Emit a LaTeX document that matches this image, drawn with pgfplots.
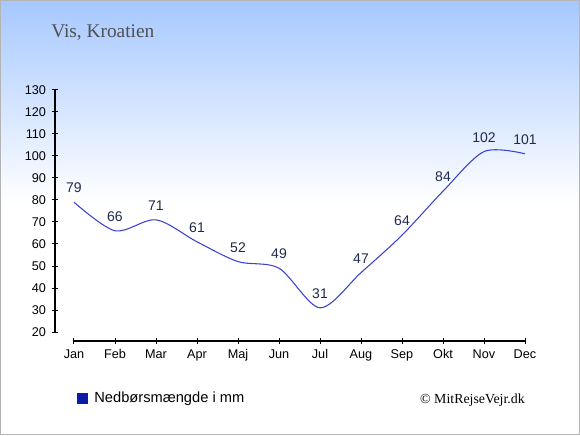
\documentclass[border=0pt]{standalone}
\usepackage{pgfplots}
\pgfplotsset{compat=1.18}
\usepackage{fontspec}
\setmainfont{Liberation Sans}
\newfontfamily\seriffont{Liberation Serif}
\definecolor{bgtop}{HTML}{A6C8FF}
\definecolor{bordergray}{HTML}{B4B4B4}
\definecolor{titlegray}{HTML}{505050}
\definecolor{linecol}{HTML}{3A42CF}
\definecolor{labcol}{HTML}{1F2B4A}
\definecolor{legblue}{HTML}{0A1CA8}
\begin{document}
\begin{tikzpicture}[x=0.75pt,y=0.75pt]
\useasboundingbox (0,0) rectangle (580,435);
\fill[white] (0,0) rectangle (580,435);
\shade[top color=bgtop, bottom color=white] (0,232) rectangle (580,435);
\draw[bordergray, line width=1.1pt] (0.6,0.6) rectangle (579.4,434.4);
\node[anchor=base west, inner sep=0pt, text=titlegray, font=\seriffont\fontsize{14.5}{17}\selectfont] at (51,397) {Vis, Kroatien};
\node[anchor=base east, inner sep=0pt, text=black, font=\seriffont\fontsize{10.4}{12}\selectfont] at (525,32) {\textcopyright\ MitRejseVejr.dk};
\begin{axis}[
  at={(55.5pt,77.25pt)}, anchor=south west,
  width=338.25pt, height=181.5pt, scale only axis,
  xmin=0, xmax=11, ymin=20, ymax=130,
  axis lines=left,
  axis line style={-, black, line width=0.9pt},
  axis x line shift=6.75pt,
  axis y line shift=14.25pt,
  xtick={0,...,11},
  xticklabels={Jan,Feb,Mar,Apr,Maj,Jun,Jul,Aug,Sep,Okt,Nov,Dec},
  ytick={20,30,...,130},
  tick align=center,
  major tick length=4.5pt,
  tick style={black, line width=0.75pt},
  tick label style={font=\fontsize{9.5}{11}\selectfont, text=black},
  /pgf/number format/assume math mode=true,
  xticklabel style={yshift=-0.7pt},
  yticklabel style={xshift=-1pt},
  clip=false,
  legend style={at={(axis description cs:0.0067,-0.273)}, anchor=west, draw=none, fill=none, inner sep=0pt, font=\fontsize{11}{13}\selectfont, nodes={inner sep=0pt}},
  /tikz/every odd column/.append style={column sep=4.5pt},
  legend image code/.code={\fill[legblue] (0pt,-3.75pt) rectangle (7.5pt,3.75pt);},
]
\addplot[linecol, line width=0.8pt, smooth, mark=none,
  nodes near coords, point meta=explicit symbolic,
  every node near coord/.append style={anchor=south, inner sep=0pt, yshift=6.5pt, text=labcol, font=\fontsize{10.5}{12}\selectfont}]
coordinates {
(0,79) [79]
(1,66) [66]
(2,71) [71]
(3,61) [61]
(4,52) [52]
(5,49) [49]
(6,31) [31]
(7,47) [47]
(8,64) [64]
(9,84) [84]
(10,102) [102]
(11,101) [101]
};
\addlegendentry{Nedbørsmængde i mm}
\end{axis}
\end{tikzpicture}
\end{document}
